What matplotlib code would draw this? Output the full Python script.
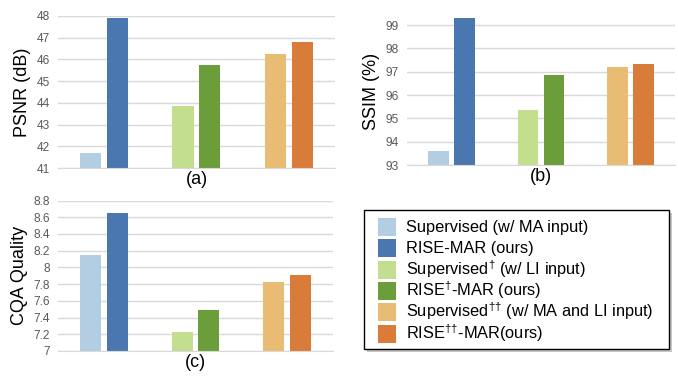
import matplotlib.pyplot as plt
from matplotlib.patches import Rectangle
import numpy as np

# ----------------------------
# data
# ----------------------------
groups = ["MA", "LI", "MA+LI"]
psnr_sup = [41.7, 43.85, 46.25]
psnr_rise = [47.9, 45.75, 46.8]
ssim_sup = [93.6, 95.35, 97.2]
ssim_rise = [99.3, 96.85, 97.35]
cqa_sup = [8.15, 7.23, 7.82]
cqa_rise = [8.65, 7.49, 7.91]

legend_labels = [
    "Supervised (w/ MA input)",
    "RISE-MAR (ours)",
    "Supervised$^{†}$ (w/ LI input)",
    "RISE$^{†}$-MAR (ours)",
    "Supervised$^{††}$ (w/ MA and LI input)",
    "RISE$^{††}$-MAR(ours)",
]
sup_colors = ["#b3cde3", "#c3de8f", "#e9bc74"]
rise_colors = ["#4a77b0", "#6b9e3b", "#d97c39"]

plt.rcParams.update({
    "font.family": "Liberation Sans",
    "mathtext.fontset": "custom",
    "mathtext.rm": "Liberation Sans",
    "mathtext.it": "Liberation Sans",
})

W, H = 678, 377
fig = plt.figure(figsize=(W / 100, H / 100), dpi=100)

def plot_panel(rect, sup, rise, ylim, ticks, ticklabels, ylabel, title):
    ax = fig.add_axes(rect)
    x = np.arange(len(groups))
    w = 0.23
    off = 0.145
    ax.bar(x - off, sup, w, color=sup_colors, zorder=2)
    ax.bar(x + off, rise, w, color=rise_colors, zorder=2)
    ax.set_xlim(-0.5, 2.5)
    ax.set_ylim(*ylim)
    ax.set_yticks(ticks)
    ax.set_yticklabels(ticklabels)
    ax.yaxis.grid(True, color="#d9d9d9", linewidth=1, zorder=0)
    ax.set_xticks([])
    for s in ["top", "right", "left"]:
        ax.spines[s].set_visible(False)
    ax.spines["bottom"].set_color("#d9d9d9")
    ax.tick_params(axis="y", length=0, labelsize=8.6, labelcolor="#595959", pad=6)
    ax.set_ylabel(ylabel, fontsize=13, labelpad=4)
    ax.set_xlabel(title, fontsize=13, labelpad=2)
    return ax

plot_panel([0.0855, 0.554, 0.4085, 0.404], psnr_sup, psnr_rise, (41, 48),
           range(41, 49), [str(v) for v in range(41, 49)], "PSNR (dB)", "(a)")
plot_panel([0.600, 0.562, 0.3956, 0.390], ssim_sup, ssim_rise, (93, 99.3),
           range(93, 100), [str(v) for v in range(93, 100)], "SSIM (%)", "(b)")
cqa_ticks = [7, 7.2, 7.4, 7.6, 7.8, 8, 8.2, 8.4, 8.6, 8.8]
plot_panel([0.0855, 0.069, 0.4055, 0.399], cqa_sup, cqa_rise, (7, 8.8),
           cqa_ticks, [f"{v:g}" for v in cqa_ticks], "CQA Quality", "(c)")

# legend box drawn by hand so the rows stay evenly spaced
colors = [sup_colors[0], rise_colors[0], sup_colors[1], rise_colors[1],
          sup_colors[2], rise_colors[2]]

def fx(px):
    return px / W

def fy(py):
    return 1 - py / H

box_l, box_r, box_t, box_b = 364, 669, 210, 349
fig.add_artist(Rectangle((fx(box_l + 3), fy(box_b + 3)), fx(box_r - box_l),
                         (box_b - box_t) / H, transform=fig.transFigure,
                         facecolor="#a0a0a0", edgecolor="none", alpha=0.6))
fig.add_artist(Rectangle((fx(box_l), fy(box_b)), fx(box_r - box_l),
                         (box_b - box_t) / H, transform=fig.transFigure,
                         facecolor="white", edgecolor="black", linewidth=1.0))
for i, (c, lab) in enumerate(zip(colors, legend_labels)):
    yc = 227 + i * 21.3
    fig.add_artist(Rectangle((fx(378), fy(yc + 9)), fx(18), 18 / H,
                             transform=fig.transFigure, facecolor=c,
                             edgecolor="none"))
    fig.text(fx(406), fy(yc + 5), lab, fontsize=11.8, va="baseline",
             ha="left")

fig.savefig("out.png", dpi=100)
